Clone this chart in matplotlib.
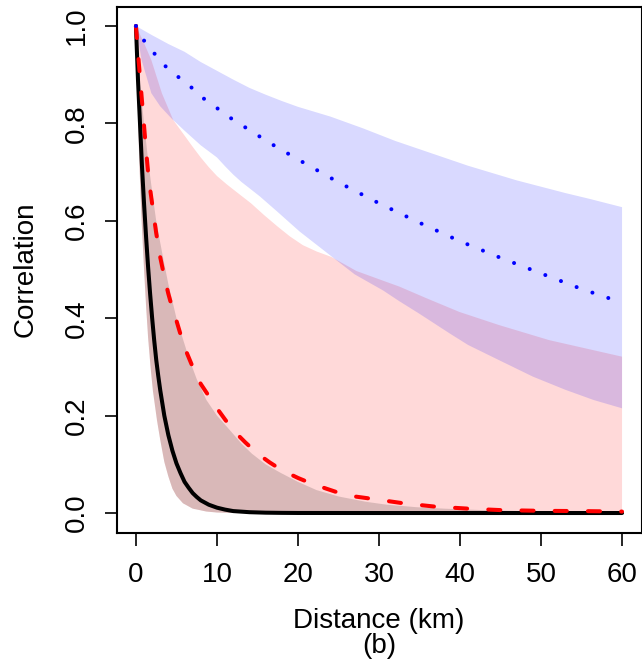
import numpy as np
import matplotlib
matplotlib.use("Agg")
import matplotlib.pyplot as plt

plt.rcParams['font.family'] = ['Liberation Sans', 'DejaVu Sans']

# solid black curve and its band
solid_x = [0, 0.25, 0.5, 0.75, 1, 1.25, 1.5, 1.75, 2, 2.25, 2.5, 2.75, 3, 3.5, 4,
           4.5, 5, 5.5, 6, 6.5, 7, 7.5, 8, 9, 10, 11, 12, 14, 16, 18, 20, 30, 40,
           50, 60]
solid_y = [1.0, 0.89, 0.80, 0.71, 0.635, 0.567, 0.505, 0.45, 0.40, 0.355, 0.315,
           0.282, 0.252, 0.20, 0.160, 0.128, 0.102, 0.082, 0.064, 0.052, 0.041,
           0.033, 0.026, 0.017, 0.011, 0.007, 0.004, 0.0017, 0.0007, 0.0003,
           0.0001, 0.0, 0.0, 0.0, 0.0]
black_hi_x = [0, 0.5, 1, 1.5, 2, 2.5, 3, 3.4, 4, 5, 6.5, 7.5, 8.7, 10, 11.6, 13,
              14.3, 16, 17.8, 20, 22.3, 25, 28.4, 31, 34.6, 38, 42.8, 50, 60]
black_hi_y = [1.0, 0.88, 0.80, 0.725, 0.66, 0.60, 0.555, 0.52, 0.47, 0.40, 0.32,
              0.275, 0.232, 0.200, 0.170, 0.143, 0.122, 0.100, 0.083, 0.064, 0.047,
              0.034, 0.023, 0.017, 0.012, 0.009, 0.006, 0.003, 0.001]
black_lo_x = [0, 0.2, 0.4, 0.7, 1.0, 1.25, 1.5, 1.8, 2.1, 2.6, 3.0, 3.5, 4.0, 4.5,
              5.0, 5.8, 7, 8.7, 10, 12, 60]
black_lo_y = [1.0, 0.86, 0.725, 0.60, 0.50, 0.425, 0.36, 0.30, 0.25, 0.19, 0.15,
              0.105, 0.075, 0.05, 0.035, 0.02, 0.009, 0.003, 0.001, 0.0, 0.0]

# dashed red curve and its band
dashed_x = [0, 0.25, 0.5, 0.75, 1, 1.25, 1.5, 1.75, 2, 2.5, 3, 3.5, 4, 4.5, 5, 5.5,
            6, 7, 8, 9, 10, 11, 12, 13.5, 15, 16.5, 18, 20, 21.6, 23.5, 25.3, 27,
            29.2, 33, 37, 41, 45, 50, 55, 60]
dashed_y = [1.0, 0.945, 0.895, 0.845, 0.795, 0.745, 0.70, 0.665, 0.635, 0.575,
            0.525, 0.485, 0.45, 0.42, 0.395, 0.367, 0.34, 0.30, 0.265, 0.24, 0.215,
            0.192, 0.170, 0.145, 0.122, 0.104, 0.088, 0.072, 0.061, 0.050, 0.040,
            0.034, 0.029, 0.020, 0.013, 0.009, 0.006, 0.0045, 0.004, 0.003]
red_hi_x = [0, 1, 1.9, 3.2, 4.6, 6, 7, 8, 9, 10, 11.2, 12.5, 14.2, 15.8, 17.5, 19,
            20.6, 22.3, 24.1, 27.2, 30.5, 32.5, 36, 39.9, 44.8, 48, 51, 55.5, 60]
red_hi_y = [1.0, 0.965, 0.93, 0.862, 0.807, 0.775, 0.752, 0.73, 0.71, 0.692, 0.675,
            0.658, 0.636, 0.612, 0.588, 0.568, 0.55, 0.537, 0.526, 0.497, 0.477,
            0.465, 0.44, 0.413, 0.386, 0.37, 0.355, 0.338, 0.321]
red_lo_x = black_lo_x
red_lo_y = black_lo_y

# dotted blue curve and its band
dotted_x = [0, 1, 2.3, 3.6, 5.1, 6.7, 8.2, 9.8, 11.4, 13.1, 14.8, 16.5, 20, 25, 30,
            35, 40, 45, 50, 55, 60]
dotted_y = [1.0, 0.970, 0.943, 0.918, 0.897, 0.876, 0.853, 0.834, 0.814, 0.796,
            0.778, 0.760, 0.726, 0.679, 0.636, 0.596, 0.558, 0.524, 0.492, 0.460,
            0.432]
blue_hi_x = [0, 2, 4, 6, 8, 10, 12, 14, 16, 18, 20, 22, 24, 26, 28, 30, 32, 35,
             38, 41, 44, 47, 50, 53, 56, 60]
blue_hi_y = [1.0, 0.981, 0.963, 0.947, 0.926, 0.908, 0.890, 0.873, 0.859, 0.846,
             0.834, 0.824, 0.814, 0.802, 0.790, 0.777, 0.764, 0.747, 0.73, 0.713,
             0.698, 0.683, 0.67, 0.657, 0.645, 0.628]
blue_lo_x = [0, 0.7, 1.9, 3, 4.4, 6, 8, 10, 11, 12, 13, 14, 15.3, 17.5, 20.2, 23.9,
             27, 30.5, 32.5, 35, 38.7, 41, 44.8, 49, 53, 56.5, 60]
blue_lo_y = [1.0, 0.93, 0.862, 0.835, 0.81, 0.785, 0.755, 0.73, 0.712, 0.695, 0.68,
             0.667, 0.65, 0.618, 0.578, 0.53, 0.49, 0.457, 0.435, 0.409, 0.369,
             0.345, 0.314, 0.28, 0.253, 0.232, 0.215]

x_ticks = [0, 10, 20, 30, 40, 50, 60]
y_ticks = [0.0, 0.2, 0.4, 0.6, 0.8, 1.0]


def band(ax, hx, hy, lx, ly, color):
    px = np.concatenate([hx, lx[::-1]])
    py = np.concatenate([hy, ly[::-1]])
    ax.fill(px, py, color=color, alpha=0.15, lw=0)


fig = plt.figure(figsize=(6.42, 6.66), dpi=100)
ax = fig.add_axes([116.5 / 642, 133.5 / 666, 525 / 642, 526 / 666])

band(ax, red_hi_x, red_hi_y, red_lo_x, red_lo_y, 'red')
band(ax, blue_hi_x, blue_hi_y, blue_lo_x, blue_lo_y, 'blue')
band(ax, black_hi_x, black_hi_y, black_lo_x, black_lo_y, 'black')

ax.plot(solid_x, solid_y, color='black', lw=2.9, solid_capstyle='round',
        solid_joinstyle='round')
ax.plot(dashed_x, dashed_y, color='red', lw=2.9, dashes=(3, 5.25),
        dash_capstyle='round')
ax.plot(dotted_x, dotted_y, color='blue', lw=2.9, dashes=(0.01, 4.15),
        dash_capstyle='round')

ax.set_xlim(-2.4, 62.4)
ax.set_ylim(-0.04, 1.04)
ax.set_xticks(x_ticks)
ax.set_yticks(y_ticks)
ax.set_xticklabels([str(t) for t in x_ticks])
ax.set_yticklabels(['%.1f' % t for t in y_ticks])
ax.tick_params(direction='out', length=9, width=1.2, labelsize=20, pad=12)
ax.tick_params(axis='y', pad=10)
for lab in ax.get_yticklabels():
    lab.set_rotation(90)
    lab.set_va('center')
for s in ax.spines.values():
    s.set_linewidth(1.5)

fig.text(379 / 642, (666 - 628) / 666, 'Distance (km)', ha='center',
         va='baseline', fontsize=20)
fig.text(379 / 642, (666 - 653) / 666, '(b)', ha='center', va='baseline',
         fontsize=20)
fig.text(26 / 642, (666 - 269.5) / 666, 'Correlation', ha='center', va='center',
         rotation=90, fontsize=20)

fig.savefig('out.png', dpi=100)
